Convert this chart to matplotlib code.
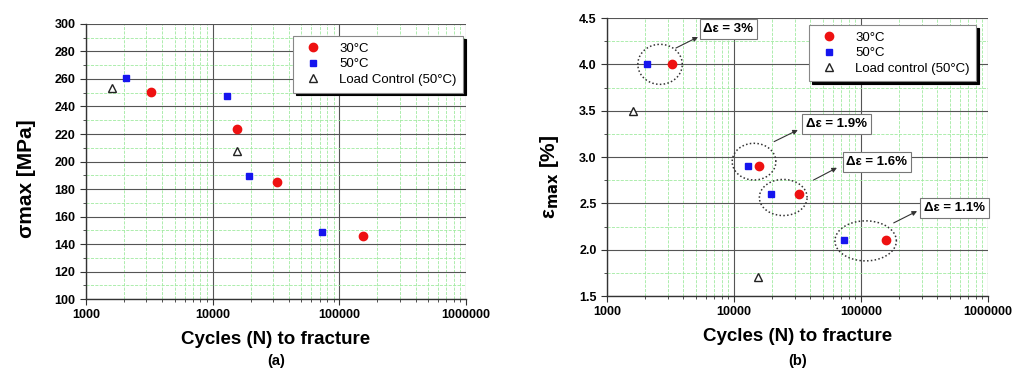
import numpy as np
import matplotlib
matplotlib.use('Agg')
import matplotlib.pyplot as plt
from matplotlib.ticker import MultipleLocator, LogLocator, NullFormatter, FormatStrFormatter

plt.rcParams['font.family'] = ['Liberation Sans', 'DejaVu Sans']

# (a) max stress vs cycles
a_n_30 = [3260, 15700, 32200, 154700]
a_s_30 = [250.5, 223.5, 185, 145.6]
a_n_50 = [2070, 12900, 19400, 72600]
a_s_50 = [260.7, 247.4, 189.7, 148.5]
a_n_lc = [1600, 15500]
a_s_lc = [253.5, 207.6]

# (b) max strain vs cycles
b_n_30 = [3240, 15800, 32800, 156700]
b_e_30 = [4.0, 2.9, 2.6, 2.1]
b_n_50 = [2060, 12900, 19400, 72900]
b_e_50 = [4.0, 2.9, 2.6, 2.1]
b_n_lc = [1600, 15500]
b_e_lc = [3.5, 1.7]

# strain amplitude groups: ellipse (log10 x centre, y centre, log half width, half height),
# label position, arrow start / end (log10 x, y)
groups = ['Δε = 3%', 'Δε = 1.9%', 'Δε = 1.6%', 'Δε = 1.1%']
ell_cx = [3.418, 4.158, 4.388, 5.037]
ell_cy = [4.0, 2.95, 2.563, 2.095]
ell_w = [0.175, 0.172, 0.188, 0.242]
ell_h = [0.216, 0.198, 0.195, 0.216]
lab_x = [9050, 64300, 133700, 545000]
lab_y = [4.385, 3.357, 2.949, 2.452]
arr_x0 = [3.543, 4.316, 4.626, 5.258]
arr_y0 = [4.176, 3.166, 2.751, 2.289]
arr_x1 = [3.717, 4.503, 4.811, 5.442]
arr_y1 = [4.295, 3.292, 2.884, 2.416]

RED = '#ee1111'
BLUE = '#1515ee'


def style_axes(ax, ymin, ymax, ymaj, ymin_step, yfmt):
    ax.set_xscale('log')
    ax.set_xlim(1000, 1e6)
    ax.set_ylim(ymin, ymax)
    ax.xaxis.set_minor_locator(LogLocator(base=10, subs=np.arange(2, 10), numticks=20))
    ax.xaxis.set_minor_formatter(NullFormatter())
    ax.set_xticks([1e3, 1e4, 1e5, 1e6])
    ax.set_xticklabels(['1000', '10000', '100000', '1000000'])
    ax.yaxis.set_major_locator(MultipleLocator(ymaj))
    ax.yaxis.set_minor_locator(MultipleLocator(ymin_step))
    ax.yaxis.set_major_formatter(yfmt)
    for s in ['top', 'right']:
        ax.spines[s].set_visible(False)
    for s in ['left', 'bottom']:
        ax.spines[s].set_color('#333333')
        ax.spines[s].set_linewidth(1.0)
    ax.grid(True, which='minor', color='#a0eaa0', linestyle='--', linewidth=0.6)
    ax.grid(True, which='major', color='#555555', linestyle='-', linewidth=0.8)
    ax.set_axisbelow(True)
    ax.tick_params(which='major', direction='out', length=4, width=0.8, color='#333333',
                   labelsize=9)
    ax.tick_params(which='minor', direction='out', length=2, width=0.6, color='#333333')
    for lab in ax.get_xticklabels() + ax.get_yticklabels():
        lab.set_fontweight('bold')


def add_legend(ax, anchor):
    leg = ax.legend(loc='upper right', bbox_to_anchor=anchor, fontsize=9.5,
                    frameon=True, fancybox=False, shadow={'color': 'black', 'alpha': 1},
                    handletextpad=1.0, borderpad=0.5, labelspacing=0.25,
                    borderaxespad=0)
    leg.get_frame().set_edgecolor('#888888')
    leg.get_frame().set_linewidth(0.8)
    leg.get_frame().set_alpha(1)
    return leg


fig = plt.figure(figsize=(10.14, 3.72), dpi=100)
ax1 = fig.add_axes([0.0848, 0.1962, 0.3748, 0.7393])
ax2 = fig.add_axes([0.5986, 0.2043, 0.3757, 0.7473])

# panel (a)
style_axes(ax1, 100, 300, 20, 10, FormatStrFormatter('%d'))
ax1.plot(a_n_30, a_s_30, 'o', color=RED, ms=6, mec=RED, label='30°C', zorder=3)
ax1.plot(a_n_50, a_s_50, 's', color=BLUE, ms=5, mec=BLUE, label='50°C', zorder=3)
ax1.plot(a_n_lc, a_s_lc, '^', color='#222222', mfc='white', ms=5.5, mew=1.0,
         label='Load Control (50°C)', zorder=3)
ax1.set_xlabel('Cycles (N) to fracture', fontsize=13.5, fontweight='bold', labelpad=7)
ax1.set_ylabel('σmax [MPa]', fontsize=15, fontweight='bold')
ax1.yaxis.set_label_coords(-0.131, 0.436)
add_legend(ax1, (0.992, 0.956))
ax1.text(0.5, -0.225, '(a)', transform=ax1.transAxes, ha='center', va='center',
         fontsize=10.5, fontweight='bold')

# panel (b)
style_axes(ax2, 1.5, 4.5, 0.5, 0.25, FormatStrFormatter('%.1f'))
ax2.plot(b_n_30, b_e_30, 'o', color=RED, ms=6, mec=RED, label='30°C', zorder=3)
ax2.plot(b_n_50, b_e_50, 's', color=BLUE, ms=5, mec=BLUE, label='50°C', zorder=3)
ax2.plot(b_n_lc, b_e_lc, '^', color='#222222', mfc='white', ms=5.5, mew=1.0,
         label='Load control (50°C)', zorder=3)
ax2.set_xlabel('Cycles (N) to fracture', fontsize=13.5, fontweight='bold', labelpad=7)
ax2.set_ylabel(r'ε$_{\mathbf{max}}$ [%]', fontsize=15, fontweight='bold')
ax2.yaxis.set_label_coords(-0.121, 0.43)
add_legend(ax2, (0.969, 0.975))
ax2.text(0.5, -0.235, '(b)', transform=ax2.transAxes, ha='center', va='center',
         fontsize=10.5, fontweight='bold')

t = np.linspace(0, 2 * np.pi, 200)
for i, g in enumerate(groups):
    ex = 10 ** (ell_cx[i] + ell_w[i] * np.cos(t))
    ey = ell_cy[i] + ell_h[i] * np.sin(t)
    ax2.plot(ex, ey, linestyle=(0, (1, 1.5)), color='#333333', lw=1.1, zorder=4)
    ax2.annotate('', xy=(10 ** arr_x1[i], arr_y1[i]), xytext=(10 ** arr_x0[i], arr_y0[i]),
                 arrowprops=dict(arrowstyle='-|>', color='#333333', lw=0.8,
                                 mutation_scale=7, shrinkA=0, shrinkB=0), zorder=4)
    ax2.text(lab_x[i], lab_y[i], g, ha='center', va='center', fontsize=9.5,
             fontweight='bold', zorder=5,
             bbox=dict(boxstyle='square,pad=0.3', fc='white', ec='#777777', lw=0.8))

fig.savefig('out.png', dpi=100)
